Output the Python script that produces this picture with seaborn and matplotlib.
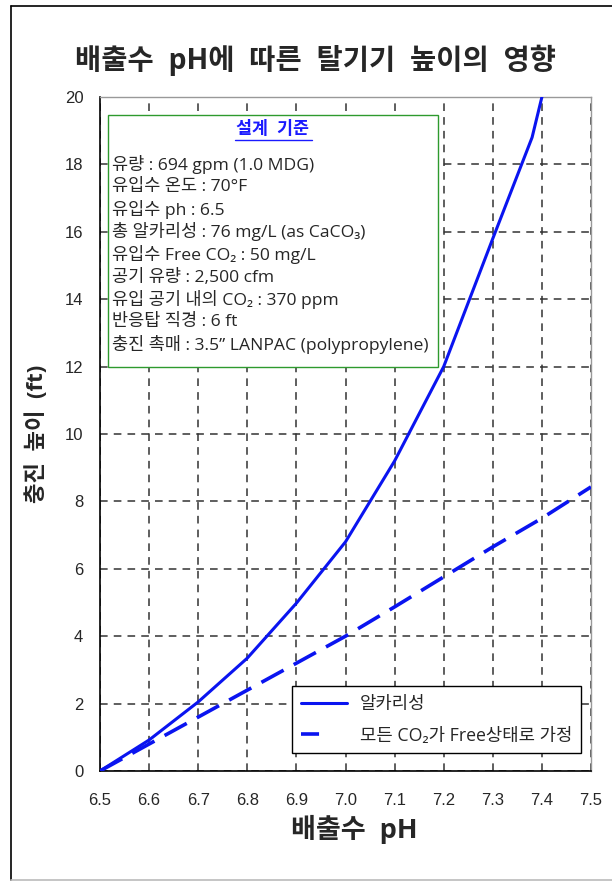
import numpy as np
import pandas as pd
import matplotlib
matplotlib.use("Agg")
import matplotlib.pyplot as plt
from matplotlib.lines import Line2D
from matplotlib.ticker import MultipleLocator
import seaborn as sns

# --- data ---
ph_alk = [6.5, 6.6, 6.7, 6.8, 6.9, 7.0, 7.1, 7.2, 7.3, 7.38, 7.4]
height_alk = [0.0, 0.92, 2.05, 3.35, 4.98, 6.8, 9.2, 12.0, 15.8, 18.8, 20.0]

ph_free = [6.5, 6.6, 6.7, 6.8, 6.9, 7.0, 7.1, 7.2, 7.3, 7.4, 7.5]
height_free = [0.0, 0.8, 1.6, 2.4, 3.2, 4.0, 4.87, 5.76, 6.65, 7.5, 8.43]

series_labels = ["알카리성", "모든 CO₂가 Free상태로 가정"]

box_title = "설계  기준"
box_lines = [
    "유량 : 694 gpm (1.0 MDG)",
    "유입수 온도 : 70°F",
    "유입수 ph : 6.5",
    "총 알카리성 : 76 mg/L (as CaCO₃)",
    "유입수 Free CO₂ : 50 mg/L",
    "공기 유량 : 2,500 cfm",
    "유입 공기 내의 CO₂ : 370 ppm",
    "반응탑 직경 : 6 ft",
    "충진 촉매 : 3.5\u201d LANPAC (polypropylene)",
]

KR = ["Open Sans", "Noto Sans CJK KR", "DejaVu Sans"]
NUM = ["Liberation Sans", "DejaVu Sans"]

sns.set_style("white")
plt.rcParams["font.family"] = KR

fig = plt.figure(figsize=(6.12, 8.86), dpi=100)
ax = fig.add_axes([100 / 612, 115 / 886, 491 / 612, 674 / 886])

df_alk = pd.DataFrame({"pH": ph_alk, "H": height_alk})
df_free = pd.DataFrame({"pH": ph_free, "H": height_free})

sns.lineplot(data=df_alk, x="pH", y="H", ax=ax, color="#0a14f0", lw=2.2,
             label=series_labels[0], zorder=4)
sns.lineplot(data=df_free, x="pH", y="H", ax=ax, color="#0a14f0", lw=2.6,
             label=series_labels[1], zorder=4)
ax.lines[1].set_linestyle((0, (7, 3.2)))

ax.set_xlim(6.5, 7.5)
ax.set_ylim(0, 20)
ax.xaxis.set_major_locator(MultipleLocator(0.1))
ax.xaxis.set_minor_locator(MultipleLocator(0.05))
ax.yaxis.set_major_locator(MultipleLocator(2))
ax.yaxis.set_minor_locator(MultipleLocator(1))
ax.set_xticks(np.round(np.arange(6.5, 7.51, 0.1), 1))
ax.set_xticklabels([f"{v:.1f}" for v in np.arange(6.5, 7.51, 0.1)], family=NUM, fontsize=12)
ax.set_yticks(np.arange(0, 21, 2))
ax.set_yticklabels([str(v) for v in range(0, 21, 2)], family=NUM, fontsize=12)

ax.tick_params(axis="x", which="major", direction="inout", length=14, width=1, pad=9, color="black")
ax.tick_params(axis="x", which="minor", direction="inout", length=8, width=1, color="black")
ax.tick_params(axis="y", which="major", direction="inout", length=12, width=1, pad=6, color="black")
ax.tick_params(axis="y", which="minor", direction="inout", length=12, width=1, color="black")

ax.grid(True, which="major", color="#333333", ls=(0, (5, 4)), lw=1.1)
ax.set_axisbelow(True)

for s in ["left", "bottom"]:
    ax.spines[s].set_color("black")
    ax.spines[s].set_linewidth(1.2)
for s in ["top", "right"]:
    ax.spines[s].set_color("#999999")
    ax.spines[s].set_linewidth(1.0)

ax.set_xlabel("배출수  pH", fontsize=19.5, fontweight="bold", labelpad=5)
ax.xaxis.label.set_x(0.517)
ax.set_ylabel("충진  높이  (ft)", fontsize=16, fontweight="bold", labelpad=12)
fig.text(0.515, 1 - 60 / 886, "배출수  pH에  따른  탈기기  높이의  영향", ha="center", va="center",
         fontsize=20.5, fontweight="bold")

# design-basis box
box = plt.Rectangle((108 / 612, 1 - 367 / 886), 330 / 612, 252 / 886, transform=fig.transFigure,
                    facecolor="white", edgecolor="#2e9a2e", lw=1.0, zorder=5)
fig.add_artist(box)
fig.text(273 / 612, 1 - 129 / 886, box_title, ha="center", va="center", fontsize=12.5,
         fontweight="bold", color="#1a1aff", zorder=6)
fig.add_artist(Line2D([235 / 612, 312 / 612], [1 - 139.5 / 886, 1 - 139.5 / 886], color="#1a1aff", lw=1, zorder=6))
for i, line in enumerate(box_lines):
    fig.text(112 / 612, 1 - (164 + i * 22.6) / 886, line, ha="left", va="center",
             fontsize=12.6, zorder=6)

leg = ax.legend(loc="lower right", bbox_to_anchor=(0.98, 0.026), fontsize=12.8, frameon=True,
                fancybox=False, edgecolor="black", framealpha=1, handlelength=2.6,
                handletextpad=0.7, borderpad=0.5, labelspacing=0.75, borderaxespad=0)
leg.get_frame().set_linewidth(1.0)
leg.set_zorder(6)
leg.get_lines()[1].set_linestyle((0, (5, 20)))

# outer frame
fig.add_artist(Line2D([11 / 612, 11 / 612], [1 - 6 / 886, 1 - 880 / 886], color="black", lw=1.2))
fig.add_artist(Line2D([11 / 612, 1], [1 - 6 / 886, 1 - 6 / 886], color="black", lw=1.2))
fig.add_artist(Line2D([11 / 612, 1], [1 - 880 / 886, 1 - 880 / 886], color="#bbbbbb", lw=1.2))

fig.savefig("out.png", dpi=100)
